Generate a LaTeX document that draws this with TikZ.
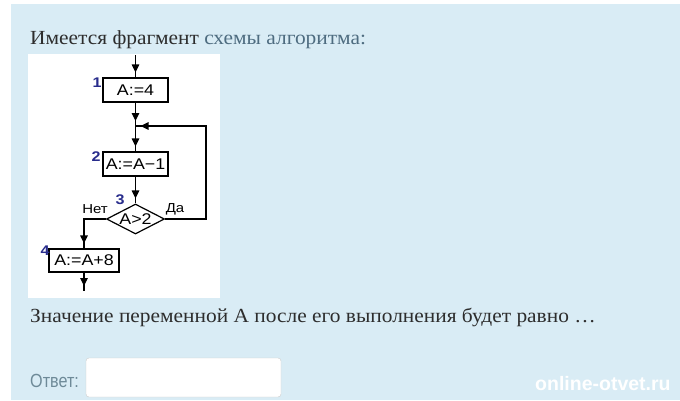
\documentclass[tikz,border=0pt]{standalone}
\usepackage{fontspec}
\setmainfont[FakeStretch=1.07]{Liberation Serif}
\newfontfamily\chartfont[FakeStretch=1.15]{Liberation Sans}
\newfontfamily\formfont[FakeStretch=0.85]{Liberation Sans}
\newfontfamily\sitefont{Liberation Sans}
\usetikzlibrary{arrows.meta,shapes.geometric,decorations.markings}
\definecolor{panelblue}{RGB}{217,236,245}
\definecolor{textdark}{RGB}{45,45,45}
\definecolor{linkgray}{RGB}{78,108,128}
\definecolor{labelgray}{RGB}{110,138,152}
\definecolor{numblue}{RGB}{40,44,140}
\definecolor{boxgray}{RGB}{205,205,205}

\begin{document}
\begin{tikzpicture}[x=1pt,y=-1pt]
	\tikzstyle{block}=[rectangle,draw=black,line width=1.2pt,inner sep=0pt,font=\chartfont\fontsize{15.5}{15.5}\selectfont]
	\tikzstyle{cond}=[diamond,draw=black,line width=1.2pt,inner sep=0pt,aspect=2,minimum width=58pt,minimum height=30pt,font=\chartfont\fontsize{15.5}{15.5}\selectfont]
	\tikzstyle{num}=[text=numblue,inner sep=0pt,font=\chartfont\bfseries\fontsize{14}{14}\selectfont]
	\tikzstyle{branch}=[inner sep=0pt,font=\chartfont\fontsize{13}{13}\selectfont]
	\tikzstyle{flow}=[draw=black,line width=1.2pt,postaction={decorate},decoration={markings,mark=at position -5pt with {\arrow{Triangle[length=8pt,width=7.5pt]}}}]
	\tikzstyle{para}=[anchor=base west,inner sep=0pt,text=textdark,font=\fontsize{20}{24}\selectfont]
	\useasboundingbox (0,0) rectangle (680,400);
	\fill[white] (0,0) rectangle (680,400);
	\fill[panelblue] (11,4) rectangle (680,400);
	\fill[white] (28,54) rectangle (220,298);
	% texts
	\node[para] (intro) at (30,44) {Имеется фрагмент \textcolor{linkgray}{схемы алгоритма:}};
	\node[para] (question) at (30,322) {Значение переменной А после его выполнения будет равно …};
	\node[anchor=base west,inner sep=0pt,text=labelgray,font=\formfont\fontsize{19}{19}\selectfont] (answer) at (30,387) {Ответ:};
	\node[draw=boxgray,fill=white,rounded corners=3pt,minimum width=195pt,minimum height=39pt,inner sep=0pt] (answerbox) at (183.5,377.5) {};
	\node[anchor=base west,inner sep=0pt,text=white,font=\sitefont\bfseries\fontsize{19.5}{19.5}\selectfont] (site) at (535,390) {online-otvet.ru};
	% flowchart
	\coordinate (in) at (135.5,55);
	\node[block,minimum width=65pt,minimum height=24pt] (1) at (135.5,90) {A:=4};
	\coordinate (join) at (135.5,126);
	\node[block,minimum width=65pt,minimum height=24pt] (2) at (135.5,164) {A:=A−1};
	\node[cond] (3) at (135.5,219) {A>2};
	\coordinate (no) at (84,219);
	\node[block,minimum width=70pt,minimum height=23pt] (4) at (84,260.5) {A:=A+8};
	\coordinate (out) at (84,291);
	\coordinate (yes) at (206,219);
	\coordinate (back) at (206,126);
	\node[num] (n1) at (97,83) {1};
	\node[num] (n2) at (96,157) {2};
	\node[num] (n3) at (120,200) {3};
	\node[num] (n4) at (45,251) {4};
	\node[branch] (nolabel) at (95,209) {Нет};
	\node[branch] (yeslabel) at (175,209) {Да};
	\draw[flow] (in) -- (1);
	\draw[flow] (1) -- (join);
	\draw[flow] (join) -- (2);
	\draw[flow] (2) -- (3);
	\draw[flow] (3.west) -- (no) -- (4);
	\draw[flow] (4) -- (out);
	\draw[flow] (3.east) -- (yes) -- (back) -- (join);
\end{tikzpicture}
\end{document}
